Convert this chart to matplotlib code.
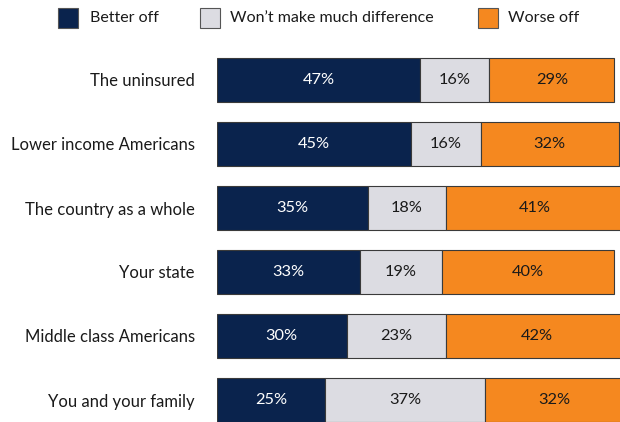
import matplotlib
matplotlib.use("Agg")
import matplotlib.pyplot as plt
from matplotlib.patches import Rectangle

plt.rcParams['font.family'] = ['Lato', 'DejaVu Sans']

categories = ["The uninsured", "Lower income Americans", "The country as a whole",
              "Your state", "Middle class Americans", "You and your family"]
series_names = ["Better off", "Won\u2019t make much difference", "Worse off"]
better_off = [47, 45, 35, 33, 30, 25]
no_difference = [16, 16, 18, 19, 23, 37]
worse_off = [29, 32, 41, 40, 42, 32]

colors = ["#0a234d", "#dcdce2", "#f5881f"]
text_colors = ["white", "#1a1a1a", "#1a1a1a"]
edge = "#3a3a3a"

W, H = 620, 422
fig = plt.figure(figsize=(W / 100, H / 100), dpi=100)
ax = fig.add_axes([217 / W, 0, 1 - 217 / W, 1])

ypos = list(range(len(categories)))
left = [0] * len(categories)
for vals, col, tcol in zip([better_off, no_difference, worse_off], colors, text_colors):
    ax.barh(ypos, vals, left=left, height=0.69, color=col,
            edgecolor=edge, linewidth=0.8)
    for y, l, v in zip(ypos, left, vals):
        ax.text(l + v / 2, y, f"{v}%", ha="center", va="center",
                fontsize=11.8, color=tcol)
    left = [a + b for a, b in zip(left, vals)]

ax.set_xlim(0, (W - 217) / 4.32)
ax.set_ylim((H - 80) / 64, -80 / 64)
ax.set_yticks(ypos)
ax.set_yticklabels(categories, fontsize=12.0, color="#1a1a1a")
ax.tick_params(axis="y", length=0, pad=16)
ax.set_xticks([])
for s in ax.spines.values():
    s.set_visible(False)

# legend row
legend_items = [(58, 90), (200, 230), (478, 508)]
for (sx, tx), name, col in zip(legend_items, series_names, colors):
    fig.patches.append(Rectangle((sx / W, 1 - 28 / H), 20 / W, 20 / H,
                                 transform=fig.transFigure, facecolor=col,
                                 edgecolor="#555555", linewidth=0.8))
    fig.text(tx / W, 1 - 18 / H, name, ha="left", va="center",
             fontsize=11.5, color="#1a1a1a")

fig.savefig("out.png", dpi=100)
